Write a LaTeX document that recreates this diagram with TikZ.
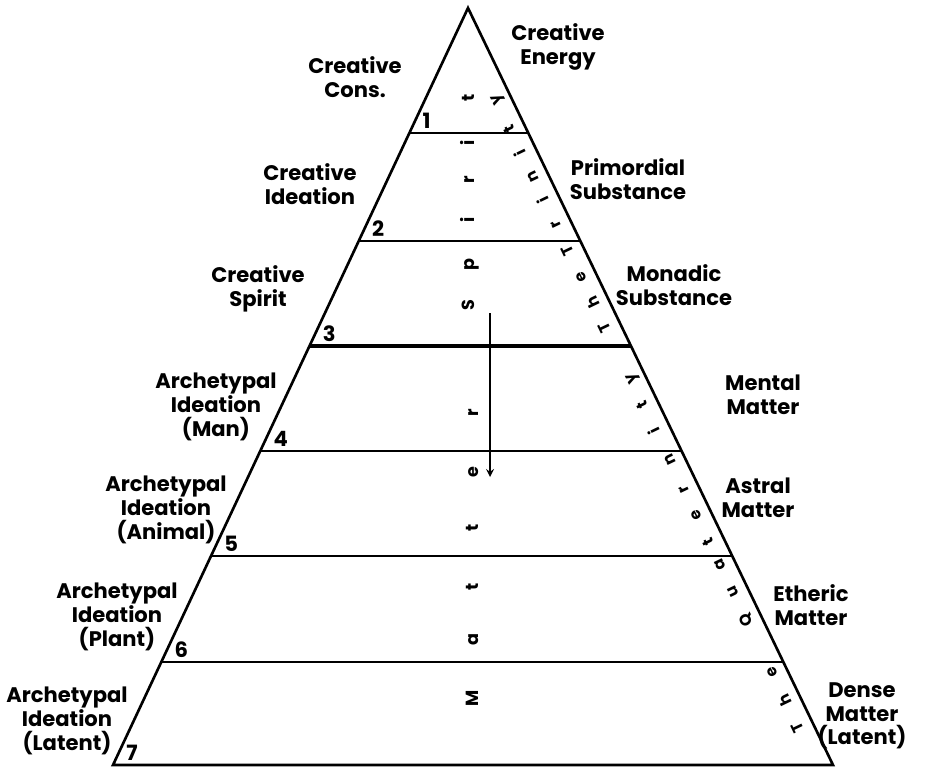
\documentclass[tikz,border=0pt]{standalone}
\usepackage{fontspec}
\setmainfont{Poppins}
\usetikzlibrary{calc}

\begin{document}
\begin{tikzpicture}[x=0.2mm, y=-0.2mm, >=stealth,
    lbl/.style={align=center, inner sep=0pt, font=\fontsize{12}{13.5}\selectfont\bfseries},
    num/.style={anchor=south west, inner sep=0pt, font=\fontsize{12}{13}\selectfont\bfseries},
    axisletter/.style={rotate=90, anchor=base, inner sep=0pt, font=\fontsize{10}{10}\selectfont\bfseries},
    rimletter/.style={rotate=115.7, anchor=base, inner sep=0pt, font=\fontsize{9}{9}\selectfont\bfseries}]
  \useasboundingbox (0,0) rectangle (938,769);
  %--- Outline of the pyramid
  \coordinate (A)  at (468,8);
  \coordinate (BL) at (113,765);
  \coordinate (BR) at (833,765);
  \draw[line width=1.5pt, line join=miter] (BL) -- (A) -- (BR) -- cycle;
  %--- Planes 1..7
  \foreach \y/\n/\w in {133/1/1.3, 241/2/1.3, 346/3/1.9, 451/4/1.5, 556/5/1.2, 662/6/1.4, 765/7/1.5} {
    \coordinate (L\n) at ($(A)!{(\y-8)/757}!(BL)$);
    \coordinate (R\n) at ($(A)!{(\y-8)/757}!(BR)$);
    \draw[line width=\w pt] (L\n) -- (R\n);
    \node[num] (n\n) at ($(L\n)+(13,-4)$) {\n};
  }
  %--- Spirit / Matter along the axis
  \foreach \y/\c [count=\i] in {305/S, 265/p, 220/i, 180/r, 143/i, 98/t}
    \node[axisletter] (s\i) at (474,\y) {\c};
  \foreach \y/\c [count=\i] in {698/M, 640/a, 587/t, 528/t, 472/e, 413/r}
    \node[axisletter] (m\i) at (478,\y) {\c};
  \coordinate (down0) at (490,313);
  \coordinate (down1) at (490,477);
  \draw[->, line width=1pt] (down0) -- (down1);
  %--- Letters along the right edge
  \foreach \y/\c [count=\i] in {725/T, 698/h, 670/e, 618/Q, 590/u, 563/a, 540/t, 513/e, 487/r,
      458/n, 428/i, 403/t, 377/y, 325/T, 300/h, 275/e, 248/T, 222/r, 197/i, 175/n, 150/i, 127/t, 98/y}
    \node[rimletter] (e\i) at ($(A)!{(\y-8)/757}!(BR)+(-11,0)$) {\c};
  %--- Left labels
  \node[lbl] (cons)     at (355,77)  {Creative\\Cons.};
  \node[lbl] (ideation) at (310,184) {Creative\\Ideation};
  \node[lbl] (spirit)   at (258,289) {Creative\\Spirit};
  \node[lbl] (man)      at (216,407) {Archetypal\\Ideation\\(Man)};
  \node[lbl] (animal)   at (166,510) {Archetypal\\Ideation\\(Animal)};
  \node[lbl] (plant)    at (117,617) {Archetypal\\Ideation\\(Plant)};
  \node[lbl] (latent)   at (67,721)  {Archetypal\\Ideation\\(Latent)};
  %--- Right labels
  \node[lbl] (energy)     at (558,47)  {Creative\\Energy};
  \node[lbl] (primordial) at (628,179) {Primordial\\Substance};
  \node[lbl] (monadic)    at (674,285) {Monadic\\Substance};
  \node[lbl] (mental)     at (763,395) {Mental\\Matter};
  \node[lbl] (astral)     at (758,498) {Astral\\Matter};
  \node[lbl] (etheric)    at (811,605) {Etheric\\Matter};
  \node[lbl] (dense)      at (862,716) {Dense\\Matter\\(Latent)};
\end{tikzpicture}
\end{document}
